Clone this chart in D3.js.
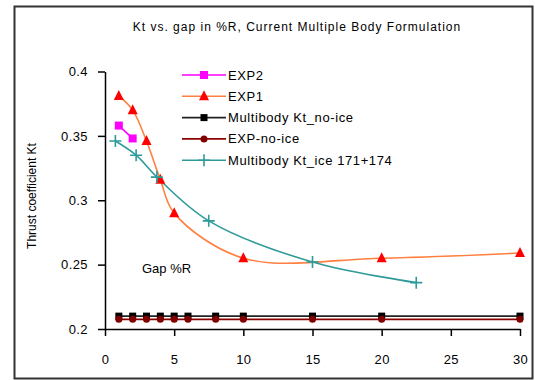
<!DOCTYPE html>
<html>
<head>
<meta charset="utf-8">
<script src="https://d3js.org/d3.v7.min.js"></script>
<style>
  body { margin: 0; background: #fff; }
  text { font-family: "Liberation Sans", Arial, sans-serif; }
</style>
</head>
<body>
<div id="chart"></div>
<script>
// data
var exp2X = [1, 2];
var exp2Y = [0.358, 0.348];

var exp1X = [1, 2, 3, 4, 5, 10, 20, 30];
var exp1Y = [0.381, 0.370, 0.346, 0.316, 0.290, 0.255, 0.255, 0.259];

var noIceX = [1, 2, 3, 4, 5, 6, 8, 10, 15, 20, 30];
var mbNoIceY = [0.21, 0.21, 0.21, 0.21, 0.21, 0.21, 0.21, 0.21, 0.21, 0.21, 0.21];
var expNoIceY = [0.2075, 0.2075, 0.2075, 0.2075, 0.2075, 0.2075, 0.2075, 0.2075, 0.2075, 0.2075, 0.2075];

var iceX = [0.75, 2.25, 3.75, 7.5, 15, 22.5];
var iceY = [0.346, 0.335, 0.318, 0.284, 0.252, 0.236];

var xTicks = [0, 5, 10, 15, 20, 25, 30];
var yTicks = [0.2, 0.25, 0.3, 0.35, 0.4];

var W = 535, H = 380;

var svg = d3.select("#chart")
    .append("svg")
    .attr("width", W)
    .attr("height", H);

// outer frame
svg.append("rect")
    .attr("x", 14.5).attr("y", 6.5)
    .attr("width", 518).attr("height", 372)
    .attr("fill", "white")
    .attr("stroke", "#333")
    .attr("stroke-width", 2);

var x = d3.scaleLinear().domain([0, 30]).range([105, 520]);
var y = d3.scaleLinear().domain([0.2, 0.4]).range([329, 71.5]);

// title
svg.append("text")
    .attr("x", 297).attr("y", 31)
    .attr("text-anchor", "middle")
    .style("font-size", "12px")
    .style("letter-spacing", "1px")
    .text("Kt vs. gap in %R, Current Multiple Body Formulation");

// axes
var xAxis = svg.append("g")
    .attr("transform", "translate(0," + y(0.2) + ")")
    .call(d3.axisBottom(x).tickValues(xTicks).tickSize(7).tickSizeOuter(0).tickPadding(19));
var yAxis = svg.append("g")
    .attr("transform", "translate(" + x(0) + ",0)")
    .call(d3.axisLeft(y).tickValues(yTicks).tickSize(7).tickSizeOuter(0).tickPadding(10)
        .tickFormat(function(d) { return String(+d.toFixed(2)); }));

[xAxis, yAxis].forEach(function(a) {
    a.select(".domain").attr("stroke", "#000").attr("stroke-width", 1.5);
    a.selectAll(".tick line").attr("stroke", "#000").attr("stroke-width", 1.5);
    a.selectAll(".tick text")
        .style("font-size", "13px")
        .style("letter-spacing", "0.4px")
        .style("font-family", "'Liberation Sans', Arial, sans-serif")
        .attr("fill", "#000");
});

// axis titles
svg.append("text")
    .attr("transform", "translate(36,196) rotate(-90)")
    .attr("text-anchor", "middle")
    .style("font-size", "12px")
    .text("Thrust coefficient Kt");

svg.append("text")
    .attr("x", 142).attr("y", 273)
    .style("font-size", "13px")
    .text("Gap %R");

function pts(xs, ys) {
    return xs.map(function(v, i) { return [v, ys[i]]; });
}

var straight = d3.line()
    .x(function(d) { return x(d[0]); })
    .y(function(d) { return y(d[1]); });
var smooth = d3.line()
    .curve(d3.curveCatmullRom.alpha(0.5))
    .x(function(d) { return x(d[0]); })
    .y(function(d) { return y(d[1]); });

var series = [
    { name: "EXP2", data: pts(exp2X, exp2Y), line: "#ff00ff", fill: "#ff00ff", marker: "square", size: 8, gen: straight },
    { name: "EXP1", data: pts(exp1X, exp1Y), line: "#ff8040", fill: "#ff0000", marker: "triangle", size: 10, gen: smooth },
    { name: "Multibody Kt_no-ice", data: pts(noIceX, mbNoIceY), line: "#222", fill: "#000", marker: "square", size: 7, gen: straight },
    { name: "EXP-no-ice", data: pts(noIceX, expNoIceY), line: "#8b0000", fill: "#800000", marker: "circle", size: 7, gen: straight },
    { name: "Multibody Kt_ice 171+174", data: pts(iceX, iceY), line: "#2e9a9a", fill: "#2e9a9a", marker: "plus", size: 12, gen: smooth }
];

function drawMarker(g, s, cx, cy) {
    var h = s.size / 2;
    if (s.marker === "square") {
        g.append("rect").attr("x", cx - h).attr("y", cy - h)
            .attr("width", s.size).attr("height", s.size).attr("fill", s.fill);
    } else if (s.marker === "triangle") {
        g.append("path")
            .attr("d", "M" + cx + "," + (cy - h - 1) + "L" + (cx + h) + "," + (cy + h - 1) + "L" + (cx - h) + "," + (cy + h - 1) + "Z")
            .attr("fill", s.fill);
    } else if (s.marker === "circle") {
        g.append("circle").attr("cx", cx).attr("cy", cy).attr("r", h).attr("fill", s.fill);
    } else if (s.marker === "plus") {
        g.append("path")
            .attr("d", "M" + (cx - h) + "," + cy + "H" + (cx + h) + "M" + cx + "," + (cy - h) + "V" + (cy + h))
            .attr("stroke", s.fill).attr("stroke-width", 1.6);
    }
}

// draw series (lines then markers)
var plot = svg.append("g");
series.forEach(function(s) {
    plot.append("path")
        .datum(s.data)
        .attr("d", s.gen)
        .attr("fill", "none")
        .attr("stroke", s.line)
        .attr("stroke-width", 1.6);
});
series.forEach(function(s) {
    var g = plot.append("g");
    s.data.forEach(function(d) { drawMarker(g, s, x(d[0]), y(d[1])); });
});

// legend
var legend = svg.append("g");
series.forEach(function(s, i) {
    var ly = 75 + i * 21.3;
    legend.append("line")
        .attr("x1", 182).attr("x2", 226)
        .attr("y1", ly).attr("y2", ly)
        .attr("stroke", s.line).attr("stroke-width", 1.6);
    drawMarker(legend, s, 204, ly);
    legend.append("text")
        .attr("x", 228).attr("y", ly + 4.5)
        .style("font-size", "13px")
        .style("letter-spacing", "0.6px")
        .text(s.name);
});
</script>
</body>
</html>
